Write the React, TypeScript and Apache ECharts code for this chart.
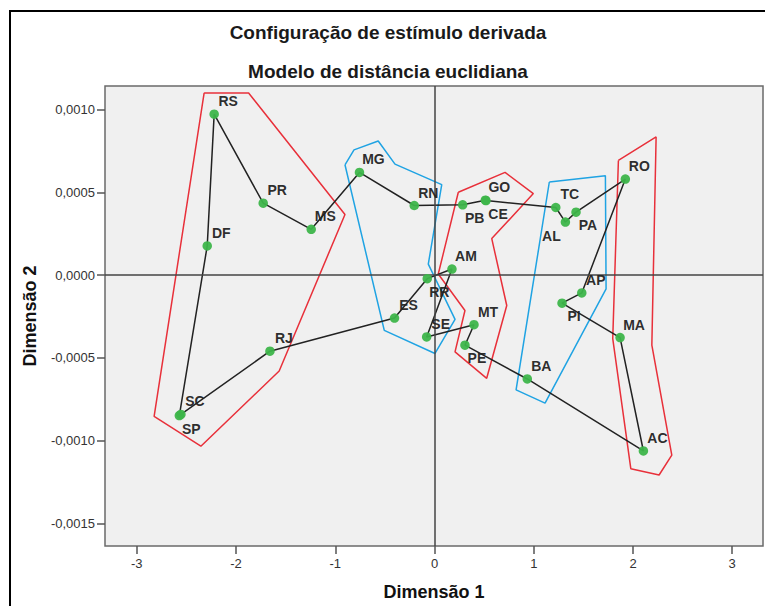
import React, { useEffect, useRef } from 'react';
import * as echarts from 'echarts';

// Stimulus names in the order of the connecting path (closed tour)
const states = ['RS', 'PR', 'MS', 'MG', 'RN', 'PB', 'GO', 'CE', 'TC', 'AL', 'PA', 'RO', 'AP', 'PI', 'MA', 'AC', 'BA', 'PE', 'MT', 'SE', 'AM', 'RR', 'ES', 'RJ', 'SC', 'SP', 'DF'];
const dim1 = [-2.22, -1.726, -1.242, -0.756, -0.204, 0.284, 0.512, 0.519, 1.222, 1.319, 1.426, 1.923, 1.484, 1.285, 1.87, 2.105, 0.935, 0.307, 0.398, -0.079, 0.176, -0.073, -0.403, -1.658, -2.555, -2.571, -2.29];
const dim2 = [0.000972, 0.000434, 0.000276, 0.00062, 0.00042, 0.000424, 0.000452, 0.00045, 0.000408, 0.00032, 0.00038, 0.00058, -0.000108, -0.00017, -0.000378, -0.001063, -0.000628, -0.000424, -0.0003, -0.000374, 0.000036, -0.000022, -0.00026, -0.00046, -0.000842, -0.000849, 0.000176];

const xTicks = [-3, -2, -1, 0, 1, 2, 3];
const yTicks = [-0.0015, -0.001, -0.0005, 0, 0.0005, 0.001];

// Group outlines (dimension 1, dimension 2)
const hullRedWest: number[][] = [[-2.321, 0.0011], [-1.873, 0.0011], [-0.902, 0.000366], [-1.565, -0.00058], [-2.354, -0.001034], [-2.825, -0.000854]];
const hullBlueCenter: number[][] = [[-0.902, 0.000666], [-0.811, 0.000756], [-0.567, 0.00081], [-0.398, 0.00067], [0.073, 0.000546], [-0.0625, 0.000066], [0.207, -0.000268], [0.005, -0.000474], [-0.506, -0.000334]];
const hullRedCenter: number[][] = [[0.24, 0.0005], [0.711, 0.00062], [0.996, 0.000492], [0.577, 0.00022], [0.728, -0.000184], [0.526, -0.000624], [0.207, -0.000464], [0.307, -0.000214], [0.038, 0.000006]];
const hullBlueEast: number[][] = [[1.157, 0.000562], [1.722, 0.0006], [1.729, -0.000084], [1.114, -0.000774], [0.822, -0.000694]];
const hullRedEast: number[][] = [[1.853, 0.000692], [2.233, 0.000834], [2.19, -0.000424], [2.391, -0.001088], [2.263, -0.001208], [1.978, -0.00117], [1.796, -0.000384]];

const belowRight = ['PB', 'CE', 'PA', 'RR', 'PE', 'PI', 'SP'];
const belowLeft = ['AL'];

const FONT = '"Liberation Sans", Arial, Helvetica, sans-serif';

function closed(pts: number[][]) {
  return [...pts, pts[0]];
}

export default function App() {
  const ref = useRef<HTMLDivElement>(null);
  useEffect(() => {
    if (!ref.current) return;
    const chart = echarts.init(ref.current, undefined, { renderer: 'svg' });
    const tour = states.map((_, i) => [dim1[i], dim2[i]]);
    const points = states.map((s, i) => {
      let offset = [14, -13];
      if (belowRight.includes(s)) offset = [12, 13];
      if (belowLeft.includes(s)) offset = [-14, 14];
      return { name: s, value: [dim1[i], dim2[i]], label: { offset } };
    });
    const hullSeries = (data: number[][], color: string) => ({
      type: 'line',
      data: closed(data),
      symbol: 'none',
      silent: true,
      z: 3,
      lineStyle: { color, width: 1.5 },
    });
    const fmtY = (v: number) => {
      const s = Math.abs(v).toFixed(4).replace('.', ',');
      return (v < -1e-12 ? '-' : '') + s;
    };
    chart.setOption({
      animation: false,
      backgroundColor: '#ffffff',
      graphic: [
        {
          type: 'rect',
          silent: true,
          shape: { x: 10, y: 11, width: 900, height: 900 },
          style: { fill: 'none', stroke: '#000', lineWidth: 2 },
        },
        {
          type: 'text',
          x: 388,
          y: 32,
          style: {
            text: 'Configuração de estímulo derivada',
            font: `bold 19px ${FONT}`,
            fill: '#1a1a1a',
            align: 'center',
            verticalAlign: 'middle',
            textAlign: 'center',
            textVerticalAlign: 'middle',
          },
        },
        {
          type: 'text',
          x: 388,
          y: 71,
          style: {
            text: 'Modelo de distância euclidiana',
            font: `bold 19px ${FONT}`,
            fill: '#1a1a1a',
            align: 'center',
            verticalAlign: 'middle',
            textAlign: 'center',
            textVerticalAlign: 'middle',
          },
        },
      ],
      grid: {
        left: 105,
        right: 2,
        top: 86,
        bottom: 57,
        show: true,
        backgroundColor: '#f0f0f0',
        borderColor: '#6a6a6a',
        borderWidth: 1.5,
      },
      xAxis: {
        type: 'value',
        min: -3.32,
        max: 3.31,
        splitLine: { show: false },
        axisLine: { show: false, onZero: false },
        axisTick: { show: true, length: 8, customValues: xTicks, lineStyle: { color: '#555', width: 1.5 } },
        axisLabel: { customValues: xTicks, margin: 11, color: '#333', fontSize: 13, fontFamily: FONT, formatter: (v: number) => String(v) },
        name: 'Dimensão 1',
        nameLocation: 'middle',
        nameGap: 37,
        nameTextStyle: { fontSize: 18, fontWeight: 'bold', color: '#111', fontFamily: FONT },
      },
      yAxis: {
        type: 'value',
        min: -0.001637,
        max: 0.001142,
        splitLine: { show: false },
        axisLine: { show: false, onZero: false },
        axisTick: { show: true, length: 8, customValues: yTicks, lineStyle: { color: '#555', width: 1.5 } },
        axisLabel: { customValues: yTicks, margin: 10, color: '#333', fontSize: 13, fontFamily: FONT, formatter: fmtY },
        name: 'Dimensão 2',
        nameLocation: 'middle',
        nameGap: 66,
        nameTextStyle: { fontSize: 18, fontWeight: 'bold', color: '#111', fontFamily: FONT },
      },
      series: [
        {
          type: 'line',
          data: [],
          silent: true,
          z: 1,
          markLine: {
            silent: true,
            symbol: ['none', 'none'],
            label: { show: false },
            lineStyle: { color: '#444', width: 1.5, type: 'solid' },
            data: [{ xAxis: 0 }, { yAxis: 0 }],
          },
        },
        hullSeries(hullRedWest, '#e8303a'),
        hullSeries(hullBlueCenter, '#1fa3e3'),
        hullSeries(hullRedCenter, '#e8303a'),
        hullSeries(hullBlueEast, '#1fa3e3'),
        hullSeries(hullRedEast, '#e8303a'),
        {
          type: 'line',
          data: closed(tour),
          symbol: 'none',
          silent: true,
          z: 4,
          lineStyle: { color: '#222', width: 1.5 },
        },
        {
          type: 'scatter',
          data: points,
          symbolSize: 9.5,
          z: 5,
          itemStyle: { color: '#3db54a', opacity: 0.95 },
          label: {
            show: true,
            position: 'inside',
            formatter: '{b}',
            fontFamily: FONT,
            fontWeight: 'bold',
            fontSize: 14,
            color: '#222',
            align: 'center',
            verticalAlign: 'middle',
          },
        },
      ],
    });
    return () => chart.dispose();
  }, []);
  return <div ref={ref} style={{ position: 'fixed', left: 0, top: 0, width: 765, height: 606 }} />;
}
